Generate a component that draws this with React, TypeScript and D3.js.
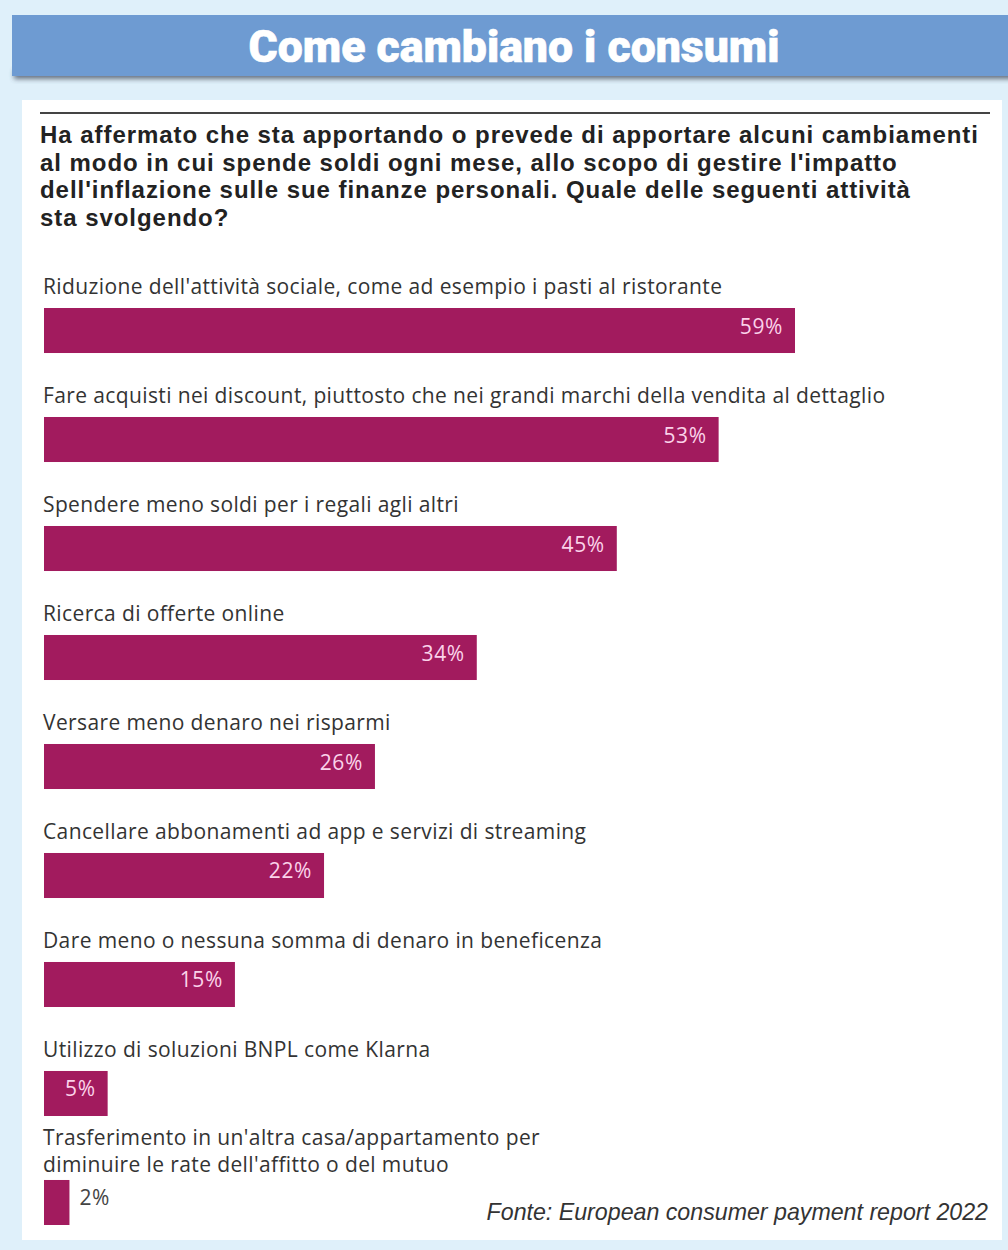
import React from "react";
import * as d3 from "d3";

const titleText = "Come cambiano i consumi";
const questionLines = [
  "Ha affermato che sta apportando o prevede di apportare alcuni cambiamenti",
  "al modo in cui spende soldi ogni mese, allo scopo di gestire l'impatto",
  "dell'inflazione sulle sue finanze personali. Quale delle seguenti attività",
  "sta svolgendo?",
];
const categories = [
  "Riduzione dell'attività sociale, come ad esempio i pasti al ristorante",
  "Fare acquisti nei discount, piuttosto che nei grandi marchi della vendita al dettaglio",
  "Spendere meno soldi per i regali agli altri",
  "Ricerca di offerte online",
  "Versare meno denaro nei risparmi",
  "Cancellare abbonamenti ad app e servizi di streaming",
  "Dare meno o nessuna somma di denaro in beneficenza",
  "Utilizzo di soluzioni BNPL come Klarna",
  "Trasferimento in un'altra casa/appartamento per\ndiminuire le rate dell'affitto o del mutuo",
];
const values = [59, 53, 45, 34, 26, 22, 15, 5, 2];
const sourceText = "Fonte: European consumer payment report 2022";

const W = 1008;
const H = 1250;
const BAR = "#a21b5e";
const LABEL_FONT = "'Open Sans', 'Noto Sans', sans-serif";
const QUESTION_FONT = "'Liberation Sans', Arial, sans-serif";

export default function App() {
  const x = d3.scaleLinear().domain([0, d3.max(values) as number]).range([44, 795]);
  const y = d3
    .scaleBand<string>()
    .domain(categories)
    .range([308, 1225])
    .paddingInner(0.587)
    .paddingOuter(0);

  return (
    <svg
      width={W}
      height={H}
      style={{ position: "absolute", left: 0, top: 0 }}
      xmlns="http://www.w3.org/2000/svg"
    >
      <defs>
        <filter id="shadow" x="-5%" y="-50%" width="110%" height="200%">
          <feGaussianBlur stdDeviation="2.5" />
        </filter>
      </defs>
      <rect x={0} y={0} width={W} height={H} fill="#dff0fa" />
      {/* header */}
      <rect x={14} y={70} width={W} height={9} fill="#3f4a5a" opacity={0.75} filter="url(#shadow)" />
      <rect x={12} y={15} width={W} height={61} fill="#6e9bd2" />
      <text
        x={514}
        y={62}
        textAnchor="middle"
        fill="#ffffff"
        fontFamily="Roboto, 'Liberation Sans', sans-serif"
        fontWeight={900}
        fontSize={44}
        textLength={531}
        lengthAdjust="spacingAndGlyphs"
        stroke="#ffffff"
        strokeWidth={0.6}
      >
        {titleText}
      </text>
      {/* panel */}
      <rect x={22} y={100} width={980} height={1140} fill="#ffffff" />
      <line x1={40} x2={990} y1={113} y2={113} stroke="#444" strokeWidth={2} />
      <text
        fill="#222"
        fontFamily={QUESTION_FONT}
        fontWeight={700}
        fontSize={24}
        letterSpacing={0.95}
      >
        {questionLines.map((l, i) => (
          <tspan key={i} x={40} y={143 + i * 27.7}>
            {l}
          </tspan>
        ))}
      </text>
      {categories.map((c, i) => {
        const top = y(c) as number;
        const lines = c.split("\n");
        const v = values[i];
        const x1 = x(v);
        const inside = x1 - x(0) > 50;
        return (
          <g key={i}>
            <text fill="#333" fontFamily={LABEL_FONT} fontSize={21} letterSpacing={0.38}>
              {lines.map((ln, j) => (
                <tspan
                  key={j}
                  x={43}
                  y={top - 14 - (lines.length - 1 - j) * 27 + (lines.length > 1 ? 6 : 0)}
                >
                  {ln}
                </tspan>
              ))}
            </text>
            <rect x={x(0)} y={top} width={x1 - x(0)} height={y.bandwidth()} fill={BAR} />
            <text
              x={inside ? x1 - 12 : x1 + 10}
              y={top + y.bandwidth() / 2 + 3}
              textAnchor={inside ? "end" : "start"}
              fill={inside ? "#fbd3ea" : "#444"}
              fontFamily={LABEL_FONT}
              fontSize={21}
              letterSpacing={0.6}
            >
              {v}%
            </text>
          </g>
        );
      })}
      <text
        x={988}
        y={1220}
        textAnchor="end"
        fill="#333"
        fontFamily="'Liberation Sans', Arial, sans-serif"
        fontStyle="italic"
        fontSize={23.2}
      >
        {sourceText}
      </text>
    </svg>
  );
}
